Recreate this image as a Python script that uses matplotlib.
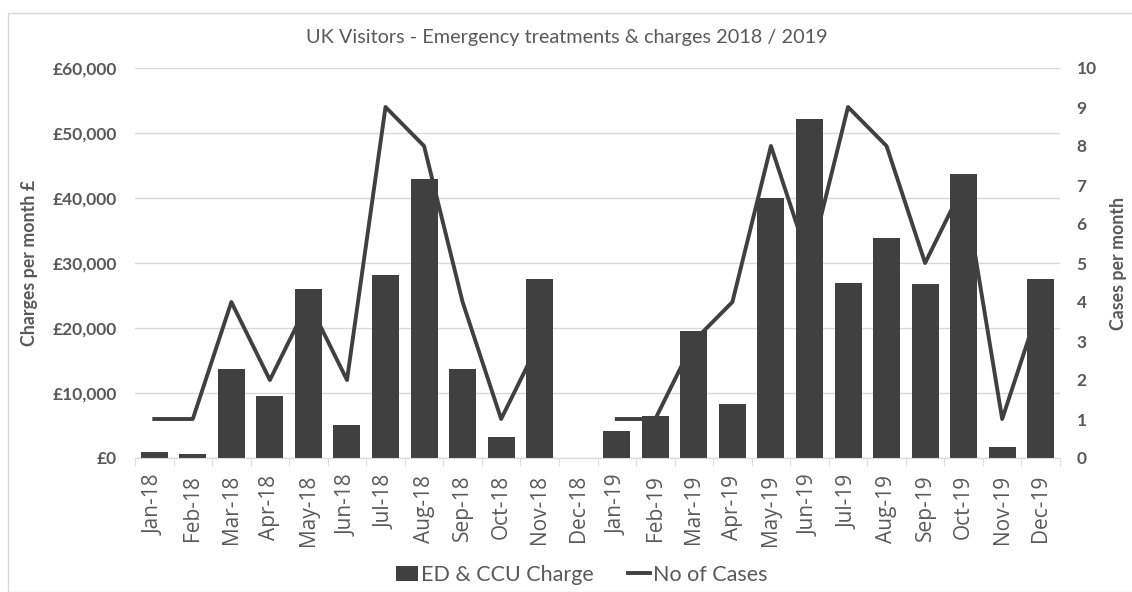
import numpy as np
import matplotlib.pyplot as plt
from matplotlib.patches import Rectangle
from matplotlib.ticker import FuncFormatter

#-----------------------------------------------------------------------------------------------------#

months = ['Jan-18', 'Feb-18', 'Mar-18', 'Apr-18', 'May-18', 'Jun-18', 'Jul-18', 'Aug-18',
          'Sep-18', 'Oct-18', 'Nov-18', 'Dec-18', 'Jan-19', 'Feb-19', 'Mar-19', 'Apr-19',
          'May-19', 'Jun-19', 'Jul-19', 'Aug-19', 'Sep-19', 'Oct-19', 'Nov-19', 'Dec-19']

charges = [900, 600, 13700, 9500, 26000, 5100, 28200, 42900, 13700, 3200, 27500, 0,
           4200, 6500, 19600, 8300, 40000, 52200, 26900, 33800, 26700, 43700, 1700, 27500]

cases = [1, 1, 4, 2, 4, 2, 9, 8, 4, 1, 3, np.nan,
         1, 1, 3, 4, 8, 5, 9, 8, 5, 7, 1, 4]

#-----------------------------------------------------------------------------------------------------#

dark = '#404040'
text_col = '#595959'
grid_col = '#d9d9d9'

fig = plt.figure(figsize=(11.32, 5.92), dpi=100)
fig.patches.append(Rectangle((8 / 1132, 0.0), 1.0, 1 - 13 / 592, transform=fig.transFigure,
                             fill=False, edgecolor='#d9d9d9', linewidth=1))

# plot area in pixels: x 135..1060, y 68..458
ax = fig.add_axes([135 / 1132, 1 - 458 / 592, (1060 - 135) / 1132, 390 / 592])
ax2 = ax.twinx()

x = np.arange(len(months))
bars = ax.bar(x, charges, width=0.7, color=dark, label='ED & CCU Charge', zorder=2)
line, = ax2.plot(x, cases, color=dark, linewidth=2.8, label='No of Cases', zorder=3)

#-----------------------------------------------------------------------------------------------------#

ax.set_xlim(-0.5, len(months) - 0.5)
ax.set_ylim(0, 60000)
ax.set_yticks(np.arange(0, 60001, 10000))
ax.yaxis.set_major_formatter(FuncFormatter(lambda v, p: '£{:,.0f}'.format(v)))
ax2.set_ylim(0, 10)
ax2.set_yticks(np.arange(0, 11, 1))

ax.grid(axis='y', color=grid_col, linewidth=1, zorder=0)
ax.set_axisbelow(True)

for a in (ax, ax2):
    for s in ('top', 'left', 'right'):
        a.spines[s].set_visible(False)
    a.spines['bottom'].set_color(grid_col)
ax2.spines['bottom'].set_visible(False)

ax.set_xticks(x)
ax.set_xticklabels(months, rotation=90, fontsize=15, color=text_col, family='Open Sans')
ax.set_xticks(np.arange(-0.5, len(months), 1), minor=True)
ax.tick_params(axis='x', which='major', length=0, pad=12)
ax.tick_params(axis='x', which='minor', length=6, color=grid_col)
ax.tick_params(axis='y', length=0, pad=13)
ax2.tick_params(axis='y', length=0, pad=12)

for lab in ax.get_yticklabels() + ax2.get_yticklabels():
    lab.set_fontsize(12.5)
    lab.set_fontweight('bold')
    lab.set_color(text_col)
    lab.set_family('Lato')

ax.set_ylabel('Charges per month £', fontsize=12.8, fontweight='bold', color=text_col,
              family='Lato')
ax.yaxis.set_label_coords((38 - 135) / 925, 0.5)
ax2.set_ylabel('Cases per month', fontsize=12.8, fontweight='bold', color=text_col,
               family='Lato')
ax2.yaxis.set_label_coords((1110 - 135) / 925, 0.5)

fig.text(567 / 1132, 1 - 38 / 592, 'UK Visitors - Emergency treatments & charges 2018 / 2019',
         ha='center', va='center', fontsize=14.3, color=text_col, family='Lato')

fig.legend([bars, line], ['ED & CCU Charge', 'No of Cases'], loc='center',
           bbox_to_anchor=(582 / 1132, 1 - 575 / 592), ncol=2, frameon=False,
           prop={'family': 'Lato', 'size': 15.5}, labelcolor=text_col,
           handlelength=1.0, handletextpad=0.15, columnspacing=1.6)

fig.savefig('out.png', dpi=100)
